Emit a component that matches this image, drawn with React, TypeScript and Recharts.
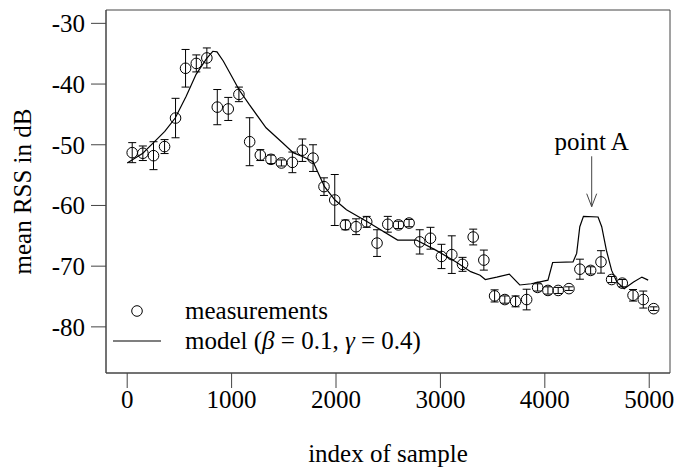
import { ComposedChart, ErrorBar, Legend, Line, ReferenceArea, ReferenceLine, Scatter, XAxis, YAxis } from "recharts";

// measurements (circles with error bars)
const sampleIndex = [
  48, 150, 252, 358, 463, 559, 662, 763, 863, 968,
  1070, 1173, 1275, 1377, 1477, 1582, 1678, 1780, 1885, 1988,
  2090, 2192, 2294, 2393, 2496, 2598, 2700, 2802, 2905, 3010,
  3109, 3212, 3314, 3416, 3519, 3617, 3720, 3826, 3931, 4030,
  4128, 4231, 4336, 4439, 4538, 4640, 4742, 4845, 4943, 5043,
];
const meanRss = [
  -51.3, -51.4, -51.8, -50.3, -45.6, -37.4, -36.6, -35.7, -43.8, -44.1,
  -41.7, -49.5, -51.7, -52.4, -53.0, -52.9, -50.9, -52.2, -56.9, -59.1,
  -63.2, -63.5, -62.7, -66.2, -63.1, -63.2, -62.9, -66.0, -65.4, -68.4,
  -68.1, -69.7, -65.2, -69.0, -74.9, -75.5, -75.8, -75.5, -73.5, -74.0,
  -74.0, -73.7, -70.5, -70.7, -69.3, -72.2, -72.8, -74.8, -75.5, -77.0,
];
const rssError = [
  1.65, 1.2, 2.3, 1.15, 3.25, 3.1, 1.4, 1.65, 2.9, 1.9,
  1.2, 3.95, 0.9, 0.7, 0.5, 1.7, 1.85, 2.2, 1.45, 4.2,
  0.8, 1.3, 0.9, 2.2, 1.3, 0.6, 0.6, 2.0, 1.8, 2.0,
  3.1, 1.15, 1.3, 1.65, 1.0, 0.6, 0.9, 1.7, 0.6, 0.6,
  0.5, 0.3, 1.65, 0.6, 1.85, 0.5, 0.6, 0.95, 1.4, 0.3,
];

// model curve
const modelIndex = [
  0, 150, 250, 360, 460, 565, 660, 760, 820, 860,
  920, 1010, 1070, 1170, 1330, 1490, 1590, 1700, 1780, 1890,
  1990, 2100, 2320, 2590, 2770, 2960, 3150, 3290, 3380, 3430,
  3540, 3660, 3760, 3870, 4030, 4075, 4270, 4305, 4335, 4370,
  4510, 4545, 4590, 4640, 4690, 4760, 4850, 4930, 4990,
];
const modelRss = [
  -53.0, -51.4, -49.7, -47.8, -45.6, -42.0, -38.4, -35.8, -34.6, -34.7,
  -36.2, -39.0, -40.9, -43.4, -47.2, -49.7, -51.3, -52.1, -52.8, -56.9,
  -59.1, -60.7, -62.9, -65.7, -65.7, -67.4, -69.3, -70.9, -71.5, -72.2,
  -71.8, -71.3, -73.1, -72.9, -72.3, -69.4, -69.3, -67.9, -63.5, -61.8,
  -61.9, -63.5, -67.4, -70.7, -72.6, -73.7, -72.6, -71.8, -72.3,
];

const xTicks = [0, 1000, 2000, 3000, 4000, 5000];
const yTicks = [-80, -70, -60, -50, -40, -30];
const xDomain = [-203, 5199];
const yDomain = [-87.6, -27.8];

const measurements = sampleIndex.map((x, i) => ({ x, y: meanRss[i], err: rssError[i] }));
const model = modelIndex.map((x, i) => ({ x, y: modelRss[i] }));

const FONT = "'Liberation Serif', serif";
const AXIS = "#444";

const Circle = (props: any) => (
  <circle cx={props.cx} cy={props.cy} r={5.3} fill="none" stroke="#000" strokeWidth={1} />
);

const XTitle = ({ viewBox }: any) => (
  <text x={viewBox.x + viewBox.width / 2} y={462} textAnchor="middle" fontFamily={FONT} fontSize={25} fill="#000">
    index of sample
  </text>
);

const YTitle = ({ viewBox }: any) => {
  const cx = 22;
  const cy = viewBox.y + viewBox.height / 2;
  return (
    <text
      x={cx}
      y={cy}
      transform={`rotate(-90 ${cx} ${cy})`}
      textAnchor="middle"
      dominantBaseline="central"
      fontFamily={FONT}
      fontSize={25}
      fill="#000"
    >
      mean RSS in dB
    </text>
  );
};

const Arrow = (props: any) => {
  const { x1, y1, x2, y2 } = props;
  return (
    <g>
      <text x={x1} y={y1 - 6} textAnchor="middle" fontFamily={FONT} fontSize={25} fill="#000">
        point A
      </text>
      <line x1={x1} y1={y1} x2={x2} y2={y2} stroke={AXIS} strokeWidth={1} />
      <path d={`M${x2 - 5},${y2 - 13} L${x2},${y2} L${x2 + 5},${y2 - 13}`} fill="none" stroke={AXIS} strokeWidth={1} />
    </g>
  );
};

const LegendBox = () => (
  <div style={{ fontFamily: FONT, fontSize: 25, color: "#000", lineHeight: "30px" }}>
    <div style={{ display: "flex", alignItems: "center" }}>
      <svg width={72} height={30}>
        <circle cx={24} cy={15} r={5.3} fill="none" stroke="#000" />
      </svg>
      <span>measurements</span>
    </div>
    <div style={{ display: "flex", alignItems: "center" }}>
      <svg width={72} height={30}>
        <line x1={0} y1={15} x2={48} y2={15} stroke="#000" strokeWidth={1.2} />
      </svg>
      <span>
        model (<i>β</i> = 0.1, <i>γ</i> = 0.4)
      </span>
    </div>
  </div>
);

const App = () => {
  return (
    <div style={{ position: "absolute", left: 0, top: 0, background: "#fff" }}>
      <ComposedChart width={691} height={470} margin={{ top: 10, right: 21, bottom: 0, left: 0 }}>
        <XAxis
          type="number"
          dataKey="x"
          domain={xDomain}
          ticks={xTicks}
          allowDataOverflow
          tickSize={15}
          tickMargin={2}
          height={97}
          stroke={AXIS}
          tick={{ fill: "#000", fontFamily: FONT, fontSize: 25 }}
          label={{ content: XTitle }}
        />
        <YAxis
          type="number"
          dataKey="y"
          domain={yDomain}
          ticks={yTicks}
          allowDataOverflow
          tickSize={15}
          tickMargin={6}
          width={106}
          stroke={AXIS}
          tick={{ fill: "#000", fontFamily: FONT, fontSize: 25 }}
          label={{ content: YTitle }}
        />
        <ReferenceArea
          x1={xDomain[0]}
          x2={xDomain[1]}
          y1={yDomain[0]}
          y2={yDomain[1]}
          fill="none"
          fillOpacity={0}
          stroke={AXIS}
          strokeWidth={1}
          ifOverflow="visible"
        />
        <Line
          data={model}
          dataKey="y"
          type="linear"
          stroke="#000"
          strokeWidth={1.2}
          dot={false}
          activeDot={false}
          isAnimationActive={false}
          legendType="none"
        />
        <Scatter data={measurements} dataKey="y" shape={Circle} isAnimationActive={false}>
          <ErrorBar dataKey="err" direction="y" width={4} stroke="#000" strokeWidth={1} />
        </Scatter>
        <ReferenceLine
          segment={[
            { x: 4449, y: -51.9 },
            { x: 4449, y: -60.2 },
          ]}
          shape={Arrow}
          ifOverflow="visible"
        />
        <Legend
          layout="vertical"
          align="center"
          verticalAlign="middle"
          content={LegendBox}
          wrapperStyle={{ left: 113, top: 296, width: 380 }}
        />
      </ComposedChart>
    </div>
  );
};

export default App;
